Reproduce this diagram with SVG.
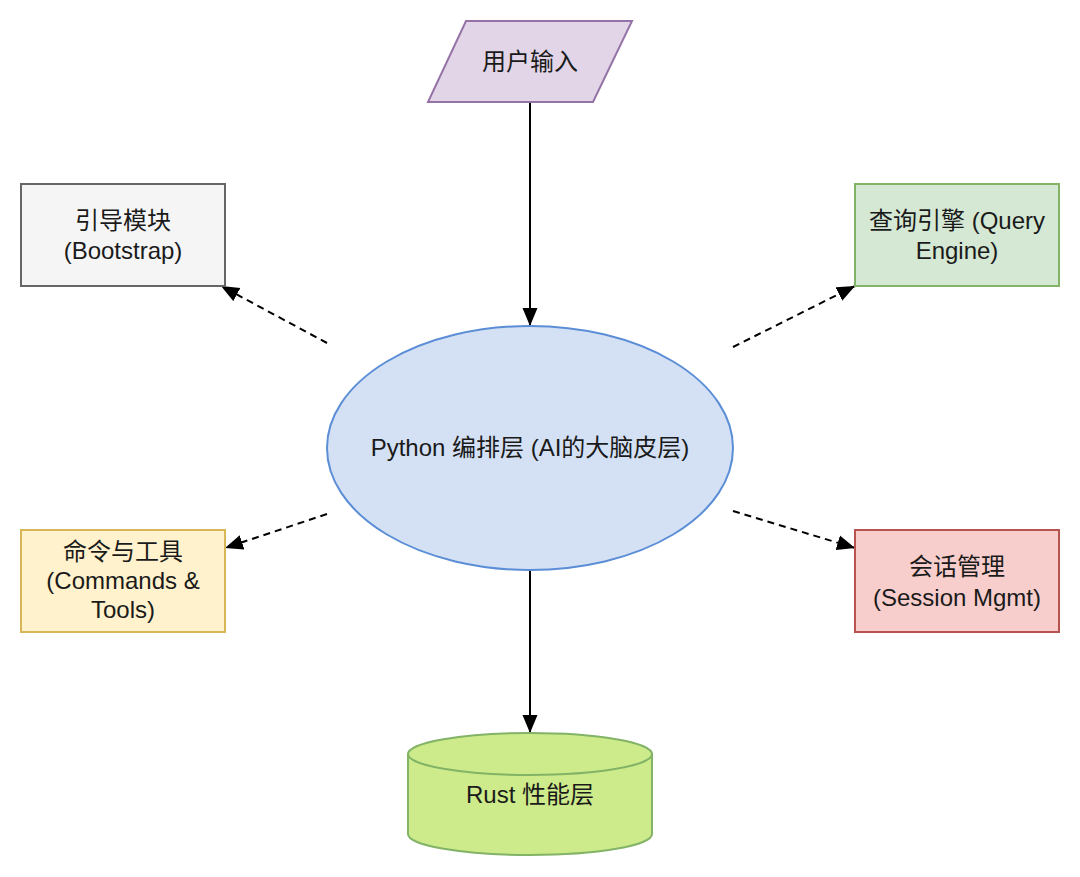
<svg xmlns="http://www.w3.org/2000/svg" width="1080" height="877" viewBox="0 0 1080 877">
<style>
text{font-family:"Liberation Sans","Noto Sans CJK SC",Arial,sans-serif;font-size:24px;fill:#1a1a1a;text-anchor:middle;dominant-baseline:central}
.solid{stroke:#000;stroke-width:2;fill:none}
.dash{stroke:#000;stroke-width:2;fill:none;stroke-dasharray:7 5}
</style>
<defs>
<marker id="ah" markerUnits="userSpaceOnUse" markerWidth="20" markerHeight="16" refX="18" refY="8" orient="auto">
<path d="M0,0.5 L18,8 L0,15.5 Z" fill="#000"/>
</marker>
</defs>
<rect width="1080" height="877" fill="#fff"/>
<g id="connectors">
<path class="solid" d="M530,103 L530,326" marker-end="url(#ah)"/>
<path class="solid" d="M530,571 L530,733" marker-end="url(#ah)"/>
<path class="dash" d="M327,343 L221,286" marker-end="url(#ah)"/>
<path class="dash" d="M733,347 L855,286" marker-end="url(#ah)"/>
<path class="dash" d="M327,514 L225,548" marker-end="url(#ah)"/>
<path class="dash" d="M733,511 L855,548" marker-end="url(#ah)"/>
</g>
<g id="user-input">
<polygon points="466,21 632,21 593,102 428,102" fill="#e1d5e7" stroke="#9673a6" stroke-width="2"/>
<text x="530" y="61">用户输入</text>
</g>
<g id="python">
<ellipse cx="530" cy="448" rx="203" ry="122" fill="#d4e1f5" stroke="#5b8ed6" stroke-width="2"/>
<text x="530" y="447">Python 编排层 (AI的大脑皮层)</text>
</g>
<g id="bootstrap">
<rect x="21" y="184" width="204" height="102" fill="#f5f5f5" stroke="#666" stroke-width="2"/>
<text x="123" y="220">引导模块</text>
<text x="123" y="250">(Bootstrap)</text>
</g>
<g id="query-engine">
<rect x="855" y="184" width="204" height="102" fill="#d5e8d4" stroke="#82b366" stroke-width="2"/>
<text x="957" y="220">查询引擎 (Query</text>
<text x="957" y="250">Engine)</text>
</g>
<g id="commands">
<rect x="21" y="530" width="204" height="102" fill="#fff2cc" stroke="#d6b656" stroke-width="2"/>
<text x="123" y="551">命令与工具</text>
<text x="123" y="580">(Commands &amp;</text>
<text x="123" y="609">Tools)</text>
</g>
<g id="session">
<rect x="855" y="530" width="204" height="102" fill="#f8cecc" stroke="#b85450" stroke-width="2"/>
<text x="957" y="566">会话管理</text>
<text x="957" y="597">(Session Mgmt)</text>
</g>
<g id="rust">
<path d="M408,754 L408,834 A122,21 0 0 0 652,834 L652,754 A122,21 0 0 0 408,754 Z" fill="#cdeb8b" stroke="#82b366" stroke-width="2"/>
<path d="M408,754 A122,21 0 0 0 652,754" fill="none" stroke="#82b366" stroke-width="2"/>
<text x="530" y="794">Rust 性能层</text>
</g>
</svg>
